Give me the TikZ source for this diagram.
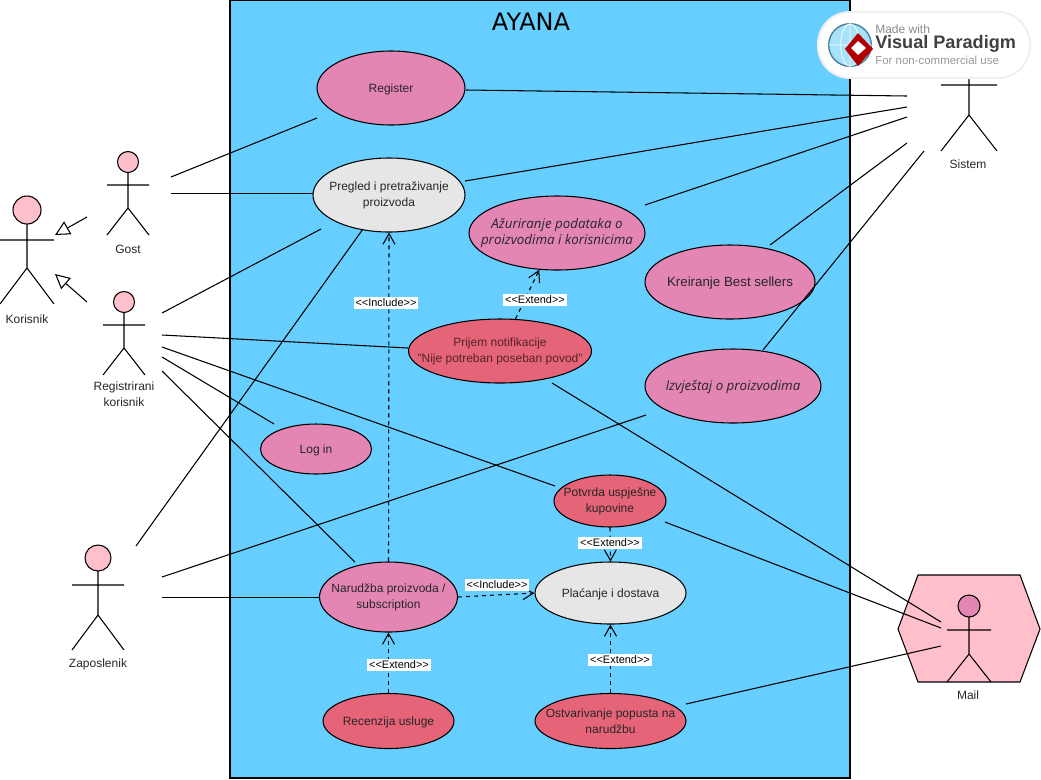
\documentclass[tikz,border=0pt]{standalone}
\usepackage{fontspec}
\setmainfont{Liberation Sans}
\newfontfamily\italfont{Open Sans}
\newfontfamily\titlefont{DejaVu Sans}
\usetikzlibrary{arrows.meta,shapes.geometric}
\definecolor{systemblue}{HTML}{66CFFF}
\definecolor{casepink}{HTML}{E486B4}
\definecolor{casered}{HTML}{E66478}
\definecolor{casegray}{HTML}{E6E6E6}
\definecolor{actorpink}{HTML}{FFC0CB}
\tikzset{
  usecase/.style n args={3}{ellipse,draw,line width=.8pt,fill=#3,inner xsep=-30pt,inner ysep=-12pt,align=center,
    font=\fontsize{9}{12}\selectfont,text=black!85,
    execute at begin node={\rule{0pt}{9pt}},
    minimum width=#1*.75pt,minimum height=#2*.75pt},
  italcase/.style={font=\italfont\itshape\fontsize{10}{12.5}\selectfont},
  actorline/.style={line width=.8pt},
  assoc/.style={line width=.8pt},
  relation/.style={line width=.8pt,dash pattern=on 3pt off 3pt,-{Straight Barb[length=8pt,width=9pt]}},
  general/.style={line width=.8pt,-{Triangle[open,length=11pt,width=11pt]}},
  stereo/.style={fill=white,inner xsep=1.5pt,inner ysep=1.5pt,font=\fontsize{8.2}{9}\selectfont},
  actorname/.style={align=center,text=black!85,font=\fontsize{9}{12}\selectfont}
}
\begin{document}
\begin{tikzpicture}[x=.75pt,y=-.75pt]
\useasboundingbox (0,0) rectangle (1041,779);

% system
\draw[line width=.9pt,fill=systemblue] (230,0) rectangle (850,778);
\node[font=\titlefont\fontsize{18}{20}\selectfont] (title) at (531,22) {AYANA};

% mail box
\draw[actorline,fill=actorpink] (918,575) -- (1020,575) -- (1040,629) -- (1020,682)
  -- (918,682) -- (898,629) -- cycle;

% actors
\foreach \cx/\hy/\r/\hw/\ay/\hp/\fy/\col in {
  27/210/14/27/240/268/304/actorpink,
  128/162/10.5/21/185/208/235/actorpink,
  124/302/10.5/21/325/348/375/actorpink,
  98/558/13/26/585/615/650/actorpink,
  969/55/12/28/85/115/151/white,
  969/606/11/22/630/654/682/casepink}{
  \draw[actorline,fill=\col] (\cx,\hy) circle [radius=\r*.75pt];
  \draw[actorline] (\cx,\hy+\r) -- (\cx,\hp) (\cx-\hw,\ay) -- (\cx+\hw,\ay)
    (\cx-\hw,\fy) -- (\cx,\hp) -- (\cx+\hw,\fy);
}
\node[actorname] (korisnik) at (27,319) {Korisnik};
\node[actorname] (gost) at (128,249) {Gost};
\node[actorname] (registrirani) at (124,394) {Registrirani\\korisnik};
\node[actorname] (zaposlenik) at (98,664) {Zaposlenik};
\node[actorname] (sistem) at (968,164) {Sistem};
\node[actorname] (mail) at (968,695) {Mail};

% use cases
\node[usecase={148}{74}{casepink}] (register) at (391,88) {Register};
\node[usecase={152}{74}{casegray}] (pregled) at (389,195) {Pregled i pretraživanje\\proizvoda};
\node[usecase={176}{74}{casepink},italcase] (azuriranje) at (557,233) {Ažuriranje podataka o\\proizvodima i korisnicima};
\node[usecase={170}{74}{casepink},font=\fontsize{10}{12}\selectfont] (kreiranje) at (730,282) {Kreiranje Best sellers};
\node[usecase={183}{64}{casered},text=black!65!casered] (prijem) at (500,351) {Prijem notifikacije\\"Nije potreban poseban povod"};
\node[usecase={176}{74}{casepink},italcase] (izvjestaj) at (733,386) {Izvještaj o proizvodima};
\node[usecase={111}{50}{casepink}] (login) at (316,449) {Log in};
\node[usecase={112}{52}{casered}] (potvrda) at (610,501) {Potvrda uspješne\\kupovine};
\node[usecase={138}{70}{casepink}] (narudzba) at (388.5,597) {Narudžba proizvoda /\\subscription};
\node[usecase={151}{62}{casegray}] (placanje) at (610.5,593) {Plaćanje i dostava};
\node[usecase={131}{55}{casered}] (recenzija) at (388.5,721) {Recenzija usluge};
\node[usecase={151}{55}{casered}] (ostvarivanje) at (610.5,721) {Ostvarivanje popusta na\\narudžbu};

% free ends of the connectors
\foreach \nm/\x/\y in {
  gosta/171/177, gostb/171/193.5, registerw/317/118, pregledw/313/193.5,
  rega/162/313, regb/162/335, regc/162/347, regd/162/357, rege/162/371,
  pregledr/321/229, prijemw/408/348, potvrdaw/555/486, loginw/274/424, narudzbaw/355/562,
  zapa/136/546, zapb/162/577, zapc/162/597.5, pregledz/363/229, izvjestajw/646/415, narudzbaz/319/597.5,
  sisa/907/96, sisb/907/107, sisc/907/117, sisd/907/143, sise/924/151,
  registere/466/90, preglede/465/181, azuriranjee/645/205, kreiranjen/770/245, izvjestajn/763/350,
  maila/941/622, mailb/941/628, mailc/941/646,
  prijems/552/383, potvrdae/665/522, ostvarivanjee/686/704,
  gostg/87/217, korisnika/55/235, regg/87/302, korisnikb/55/274}{
  \coordinate (\nm) at (\x,\y);
}

% associations
\draw[assoc] (gosta) -- (registerw);
\draw[assoc] (gostb) -- (pregledw);
\draw[assoc] (rega) -- (pregledr);
\draw[assoc] (regb) -- (prijemw);
\draw[assoc] (regc) -- (potvrdaw);
\draw[assoc] (regd) -- (loginw);
\draw[assoc] (rege) -- (narudzbaw);
\draw[assoc] (zapa) -- (pregledz);
\draw[assoc] (zapb) -- (izvjestajw);
\draw[assoc] (zapc) -- (narudzbaz);
\draw[assoc] (registere) -- (sisa);
\draw[assoc] (preglede) -- (sisb);
\draw[assoc] (azuriranjee) -- (sisc);
\draw[assoc] (kreiranjen) -- (sisd);
\draw[assoc] (izvjestajn) -- (sise);
\draw[assoc] (prijems) -- (maila);
\draw[assoc] (potvrdae) -- (mailb);
\draw[assoc] (ostvarivanjee) -- (mailc);

% generalization
\draw[general] (gostg) -- (korisnika);
\draw[general] (regg) -- (korisnikb);

% include and extend
\draw[relation] (narudzba.north) -- (pregled.south);
\draw[relation] (prijem) -- (azuriranje);
\draw[relation] (potvrda.south) -- (placanje.north);
\draw[relation] (narudzba.east) -- (placanje.west);
\draw[relation] (recenzija.north) -- (narudzba.south);
\draw[relation] (ostvarivanje.north) -- (placanje.south);
\node[stereo] (inc1) at (386,303) {<{}<Include>{}>};
\node[stereo] (ext1) at (535,300) {<{}<Extend>{}>};
\node[stereo] (ext2) at (610,543) {<{}<Extend>{}>};
\node[stereo] (inc2) at (497,585) {<{}<Include>{}>};
\node[stereo] (ext3) at (399,665) {<{}<Extend>{}>};
\node[stereo] (ext4) at (620,660) {<{}<Extend>{}>};

% watermark
\draw[black!6,line width=1.5pt,fill=white,rounded corners=24pt] (818,12) rectangle (1030,78);
\draw[black!45!cyan,line width=1pt,fill=cyan!35!white] (850,45) circle [radius=16pt];
\draw[white,line width=.6pt] (828.5,45) -- (871.5,45) (850,23.5) -- (850,66.5) (850,45) ellipse [x radius=7pt,y radius=16pt];
\fill[red!70!black] (858,33) -- (873,49) -- (858,66) -- (845,49) -- cycle;
\fill[white] (858,41) -- (866,48) -- (858,55) -- (851,48) -- cycle;
\node[anchor=west,inner sep=0pt,text=black!45,font=\fontsize{9}{10}\selectfont] (made) at (875,29) {Made with};
\node[anchor=west,inner sep=0pt,text=black!75,font=\bfseries\fontsize{13.6}{16}\selectfont] (vp) at (875,44) {Visual Paradigm};
\node[anchor=west,inner sep=0pt,text=black!40,font=\fontsize{8.6}{10}\selectfont] (noncomm) at (875,60) {For non-commercial use};
\end{tikzpicture}
\end{document}
